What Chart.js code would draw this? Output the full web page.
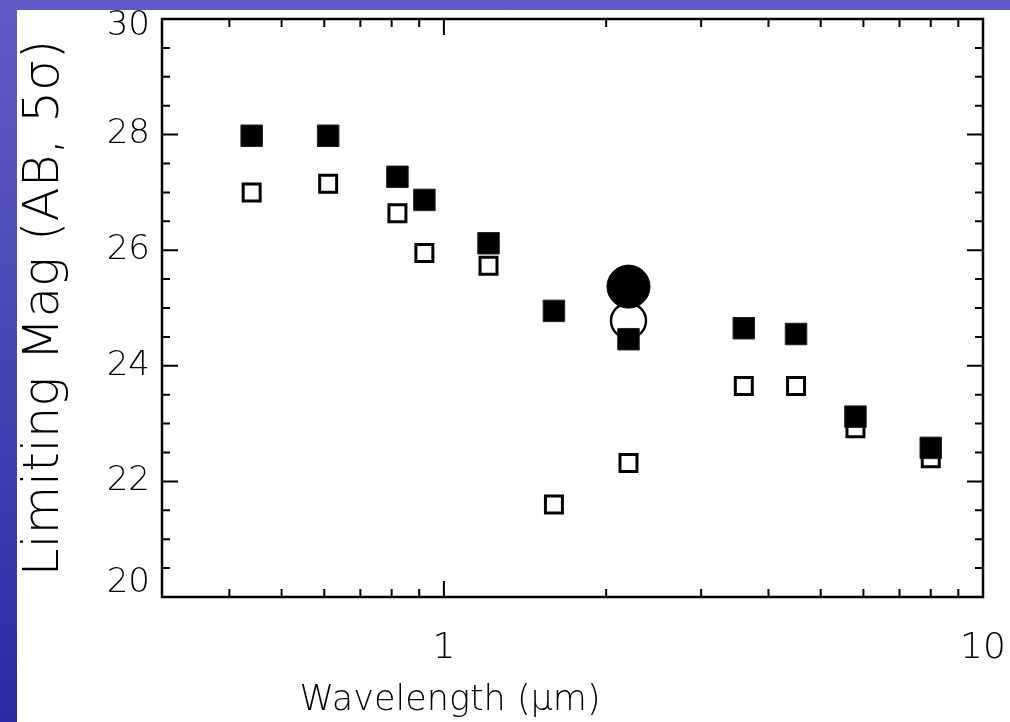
<!DOCTYPE html>
<html>
<head>
<meta charset="utf-8">
<script src="https://cdn.jsdelivr.net/npm/chart.js@4.4.0/dist/chart.umd.min.js"></script>
<style>
  html, body { margin: 0; padding: 0; }
  body {
    width: 1010px; height: 722px; overflow: hidden; position: relative;
    background: linear-gradient(to bottom, #5f5cc7 0%, #4a48b8 45%, #2a2aa6 100%);
  }
  #panel { position: absolute; left: 17px; top: 10px; width: 993px; height: 712px; background: #fff; }
</style>
</head>
<body>
<div id="panel"><canvas id="chart" width="993" height="712"></canvas></div>
<script>
// 파장 (µm)
const wavelengths = [0.44, 0.61, 0.82, 0.92, 1.21, 1.6, 2.2, 3.6, 4.5, 5.8, 8.0];
// 한계등급 (채운 사각형 / 빈 사각형)
const magFilled = [27.98, 27.98, 27.27, 26.87, 26.12, 24.95, 24.46, 24.65, 24.55, 23.12, 22.58];
const magOpen = [27.0, 27.15, 26.64, 25.95, 25.73, 21.6, 22.32, 23.65, 23.65, 22.92, 22.4];
// 원 (K 밴드)
const circleWavelength = [2.2];
const magCircleFilled = [25.37];
const magCircleOpen = [24.78];

// 눈금
const xTicks = [0.3, 0.4, 0.5, 0.6, 0.7, 0.8, 0.9, 1, 2, 3, 4, 5, 6, 7, 8, 9, 10];
const xLabels = [1, 10];
const yTicks = [20, 20.5, 21, 21.5, 22, 22.5, 23, 23.5, 24, 24.5, 25, 25.5, 26, 26.5, 27, 27.5, 28, 28.5, 29, 29.5, 30];
const yLabels = [20, 22, 24, 26, 28, 30];

const family = '"DejaVu Sans", "Liberation Sans", sans-serif';

// 프레임 + 안쪽 눈금
const frameTicks = {
  id: 'frameTicks',
  afterDraw(chart) {
    const { ctx, chartArea: a, scales } = chart;
    ctx.save();
    ctx.strokeStyle = '#000';
    ctx.lineWidth = 2;
    ctx.beginPath();
    xTicks.forEach(v => {
      const x = scales.x.getPixelForValue(v);
      const len = xLabels.includes(v) ? 16 : 8;
      ctx.moveTo(x, a.bottom); ctx.lineTo(x, a.bottom - len);
      ctx.moveTo(x, a.top); ctx.lineTo(x, a.top + len);
    });
    yTicks.forEach(v => {
      const y = scales.y.getPixelForValue(v);
      const len = yLabels.includes(v) ? 16 : 8;
      ctx.moveTo(a.left, y); ctx.lineTo(a.left + len, y);
      ctx.moveTo(a.right, y); ctx.lineTo(a.right - len, y);
    });
    ctx.stroke();
    ctx.lineWidth = 2.5;
    ctx.strokeRect(a.left, a.top, a.right - a.left, a.bottom - a.top);
    // x 축 제목
    ctx.fillStyle = '#000';
    ctx.font = '200 35px ' + family;
    ctx.textAlign = 'center';
    ctx.textBaseline = 'middle';
    ctx.fillText('Wavelength (\u03bcm)', 433, 691);
    ctx.restore();
  }
};

const toPoints = (xs, ys) => ys.map((y, i) => ({ x: xs[i], y }));

// 양 끝 라벨은 프레임 안쪽으로 살짝 밀어줌
const yLabel = v => {
  if (!yLabels.includes(v)) return '';
  if (v === 30) return ['', '30'];
  if (v === 20) return ['20', '', ''];
  return String(v);
};

new Chart(document.getElementById('chart'), {
  type: 'scatter',
  plugins: [frameTicks],
  data: {
    datasets: [
      {
        data: toPoints(wavelengths, magFilled),
        pointStyle: 'rect',
        pointRadius: 15.2,
        backgroundColor: '#000',
        borderColor: '#222',
        borderWidth: 1,
        order: 0,
      },
      {
        data: toPoints(circleWavelength, magCircleFilled),
        pointStyle: 'circle',
        pointRadius: 21.5,
        backgroundColor: '#000',
        borderColor: '#000',
        borderWidth: 1,
        order: 1,
      },
      {
        data: toPoints(circleWavelength, magCircleOpen),
        pointStyle: 'circle',
        pointRadius: 17.5,
        backgroundColor: '#fff',
        borderColor: '#000',
        borderWidth: 2.5,
        order: 2,
      },
      {
        data: toPoints(wavelengths, magOpen),
        pointStyle: 'rect',
        pointRadius: 12,
        backgroundColor: '#fff',
        borderColor: '#000',
        borderWidth: 3,
        order: 3,
      },
    ],
  },
  options: {
    responsive: false,
    animation: false,
    devicePixelRatio: 1,
    layout: { autoPadding: false, padding: { left: 0, right: 27, top: 9, bottom: 0 } },
    plugins: { legend: { display: false }, tooltip: { enabled: false } },
    scales: {
      x: {
        type: 'logarithmic',
        min: 0.3,
        max: 10,
        afterBuildTicks: s => { s.ticks = xTicks.map(v => ({ value: v })); },
        afterFit: s => { s.height = 125; s.paddingLeft = 0; s.paddingRight = 0; },
        grid: { display: false },
        border: { display: false },
        ticks: {
          autoSkip: false,
          maxRotation: 0,
          padding: 22,
          color: '#000',
          font: { family, size: 36, weight: '200' },
          callback: v => (xLabels.includes(v) ? String(v) : ''),
        },
      },
      y: {
        min: 20,
        max: 30,
        afterBuildTicks: s => { s.ticks = yTicks.map(v => ({ value: v })); },
        afterFit: s => { s.width = 145; s.paddingTop = 0; s.paddingBottom = 0; },
        grid: { display: false },
        border: { display: false },
        ticks: {
          autoSkip: false,
          padding: 4,
          color: '#000',
          font: { family, size: 34, weight: '200', lineHeight: 0.4 },
          callback: yLabel,
        },
        title: {
          display: true,
          text: 'Limiting Mag (AB, 5\u03c3)',
          color: '#000',
          font: { family, size: 50, weight: '200', lineHeight: 1 },
          padding: { top: 3, bottom: 4 },
        },
      },
    },
  },
});
</script>
</body>
</html>
